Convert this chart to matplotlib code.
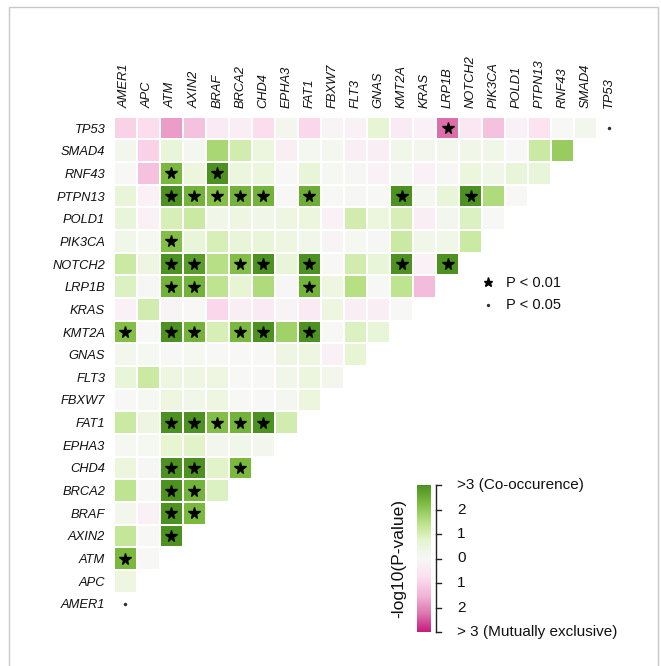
import numpy as np
import matplotlib
matplotlib.use("Agg")
import matplotlib.pyplot as plt
from matplotlib.colors import LinearSegmentedColormap
from matplotlib.lines import Line2D
from matplotlib.patches import Rectangle

plt.rcParams['font.family'] = ['Liberation Sans', 'DejaVu Sans']

genes = ["AMER1", "APC", "ATM", "AXIN2", "BRAF", "BRCA2", "CHD4", "EPHA3", "FAT1",
         "FBXW7", "FLT3", "GNAS", "KMT2A", "KRAS", "LRP1B", "NOTCH2", "PIK3CA",
         "POLD1", "PTPN13", "RNF43", "SMAD4", "TP53"]

# signed -log10(P): positive = co-occurrence, negative = mutually exclusive
# row i (gene i) holds values against genes 0..i-1
lower_values = [
    [],
    [0.4],
    [2.3, 0.0],
    [1.3, 0.0, 3.0],
    [0.2, -0.2, 3.0, 2.3],
    [1.4, 0.0, 3.0, 2.4, 0.9],
    [0.5, 0.05, 3.0, 3.0, 0.8, 2.3],
    [0.1, 0.1, 0.7, 0.8, 0.2, 0.3, 0.2],
    [1.2, 0.4, 3.0, 3.0, 2.2, 2.4, 3.0, 1.1],
    [0.0, 0.1, 0.4, 0.3, 0.4, 0.0, 0.0, 0.15, 0.5],
    [0.6, 1.2, 0.4, 0.4, 0.4, 0.0, 0.0, 0.3, 0.5, 0.2],
    [0.2, 0.1, 0.0, 0.1, 0.0, 0.0, 0.0, 0.4, 0.4, -0.2, 0.7],
    [2.2, 0.0, 3.0, 2.4, 1.0, 2.3, 3.0, 1.8, 3.0, 0.0, 0.9, 0.6],
    [-0.2, 1.1, -0.1, 0.0, -0.9, -0.3, -0.4, -0.1, -0.4, 0.4, -0.3, -0.3, 0.0],
    [0.9, 0.05, 2.4, 2.4, 1.4, 0.7, 1.6, 0.05, 2.4, 0.4, 1.5, 0.0, 1.4, -1.4],
    [1.2, 0.4, 3.0, 2.8, 1.5, 2.2, 3.0, 0.6, 3.0, 0.0, 1.1, 0.6, 3.0, -0.2, 3.0],
    [0.3, 0.1, 2.2, 0.6, 1.0, 0.6, 0.6, 0.4, 0.3, -0.1, 0.1, 0.05, 1.2, 0.3, 0.3, 1.2],
    [0.6, -0.2, 1.0, 1.2, 0.3, 0.4, 0.3, 0.4, 0.5, -0.2, 1.1, 0.5, 1.0, -0.3, 0.2, 0.9, 0.0],
    [0.6, -0.2, 3.0, 2.4, 2.2, 2.4, 2.4, 0.0, 2.5, 0.0, 0.05, 0.0, 3.0, 0.15, 0.6, 3.0, 1.6, 0.0],
    [0.0, -1.3, 2.3, 0.5, 3.0, 0.5, 0.5, 0.0, 0.6, 0.1, 0.05, -0.2, 0.15, -0.2, 0.05, 0.5, 0.3, 0.6, 0.6],
    [0.2, -1.0, 0.6, 0.15, 1.7, 1.1, 0.5, -0.3, 0.15, 0.15, -0.3, -0.3, 0.3, 0.2, 0.2, 0.3, 0.3, 0.0, 1.2, 1.9],
    [-1.0, -0.8, -1.8, -1.3, -0.4, -0.3, -0.8, 0.2, -0.9, -0.1, -0.2, 0.7, -0.4, -0.2, -2.3, -0.5, -1.3, -0.2, -0.7, 0.0, 0.2],
]
star_threshold = 2.0          # -log10(0.01)
diag_dot_genes = ["AMER1", "TP53"]
cbar_ticklabels = ["> 3 (Mutually exclusive)", "2", "1", "0", "1", "2", ">3 (Co-occurence)"]

W, H = 661, 666
fig = plt.figure(figsize=(W / 100, H / 100), dpi=100)

def fx(x): return x / W
def fy(y): return 1 - y / H

cmap = LinearSegmentedColormap.from_list(
    "piyg", ["#C51B7D", "#DE77AE", "#F1B6DA", "#FDE0EF", "#F7F7F7",
             "#E6F5D0", "#B8E186", "#7FBC41", "#4D9221"])

n = len(genes)
mat = np.full((n, n), np.nan)
for i, row in enumerate(lower_values):
    for j, v in enumerate(row):
        mat[i, j] = v

left, right, top, bottom = 113.5, 620.5, 116.7, 615.3
ax = fig.add_axes([fx(left), fy(bottom), (right - left) / W, (bottom - top) / H])
xe = np.arange(n + 1) - 0.5
ax.pcolormesh(xe, xe, np.ma.masked_invalid(mat), cmap=cmap, vmin=-3, vmax=3,
              edgecolors="white", linewidth=1.2)
ax.set_xlim(-0.5, n - 0.5)
ax.set_ylim(-0.5, n - 0.5)
for s in ax.spines.values():
    s.set_visible(False)

ys, xs = np.where(np.abs(np.nan_to_num(mat)) >= star_threshold)
ax.plot(xs, ys, linestyle="none", marker="*", color="black", markersize=8.5)
for g in diag_dot_genes:
    k = genes.index(g)
    ax.plot([k], [k], linestyle="none", marker="o", color="#333333", markersize=1.5)

ax.set_xticks(range(n))
ax.set_xticklabels(genes, rotation=90, fontstyle="italic", fontsize=9.3, color="#111111")
ax.xaxis.tick_top()
ax.set_yticks(range(n))
ax.set_yticklabels(genes, fontstyle="italic", fontsize=9.3, color="#111111")
ax.tick_params(length=0, pad=6)

# significance legend
fig.lines.append(Line2D([fx(488)], [fy(282)], transform=fig.transFigure, marker="*",
                        color="black", markersize=6.5, linestyle="none"))
fig.text(fx(506), fy(283), "P < 0.01", fontsize=10.5, ha="left", va="center", color="#111111")
fig.lines.append(Line2D([fx(488)], [fy(305)], transform=fig.transFigure, marker="o",
                        color="#333333", markersize=1.4, linestyle="none"))
fig.text(fx(506), fy(305), "P < 0.05", fontsize=10.5, ha="left", va="center", color="#111111")

# colorbar
cb_l, cb_r, cb_t, cb_b = 417, 431, 485, 632
cax = fig.add_axes([fx(cb_l), fy(cb_b), (cb_r - cb_l) / W, (cb_b - cb_t) / H])
grad = np.linspace(-3, 3, 256).reshape(-1, 1)
cax.imshow(grad, aspect="auto", cmap=cmap, origin="lower", extent=[0, 1, -3, 3])
cax.set_xticks([]); cax.set_yticks([])
for s in cax.spines.values():
    s.set_visible(False)

tick_vals = np.arange(-3, 4)
bx = 436
fig.lines.append(Line2D([fx(bx), fx(bx)], [fy(cb_b), fy(cb_t)], transform=fig.transFigure,
                        color="#222222", lw=1))
for tv, lab in zip(tick_vals, cbar_ticklabels):
    ypx = cb_b - (tv + 3) / 6 * (cb_b - cb_t)
    fig.lines.append(Line2D([fx(bx), fx(bx + 5)], [fy(ypx), fy(ypx)],
                            transform=fig.transFigure, color="#222222", lw=1))
    fig.text(fx(457), fy(ypx), lab, fontsize=11, ha="left", va="center", color="#111111")
fig.text(fx(399), fy((cb_t + cb_b) / 2), "-log10(P-value)", rotation=90, fontsize=12.5,
         ha="center", va="center", color="#111111")

# outer frame
fig.patches.append(Rectangle((fx(9), fy(670)), fx(658) - fx(9), fy(7) - fy(670),
                             transform=fig.transFigure, fill=False,
                             edgecolor="#c8c8c8", lw=1))

fig.savefig("out.png", dpi=100)
